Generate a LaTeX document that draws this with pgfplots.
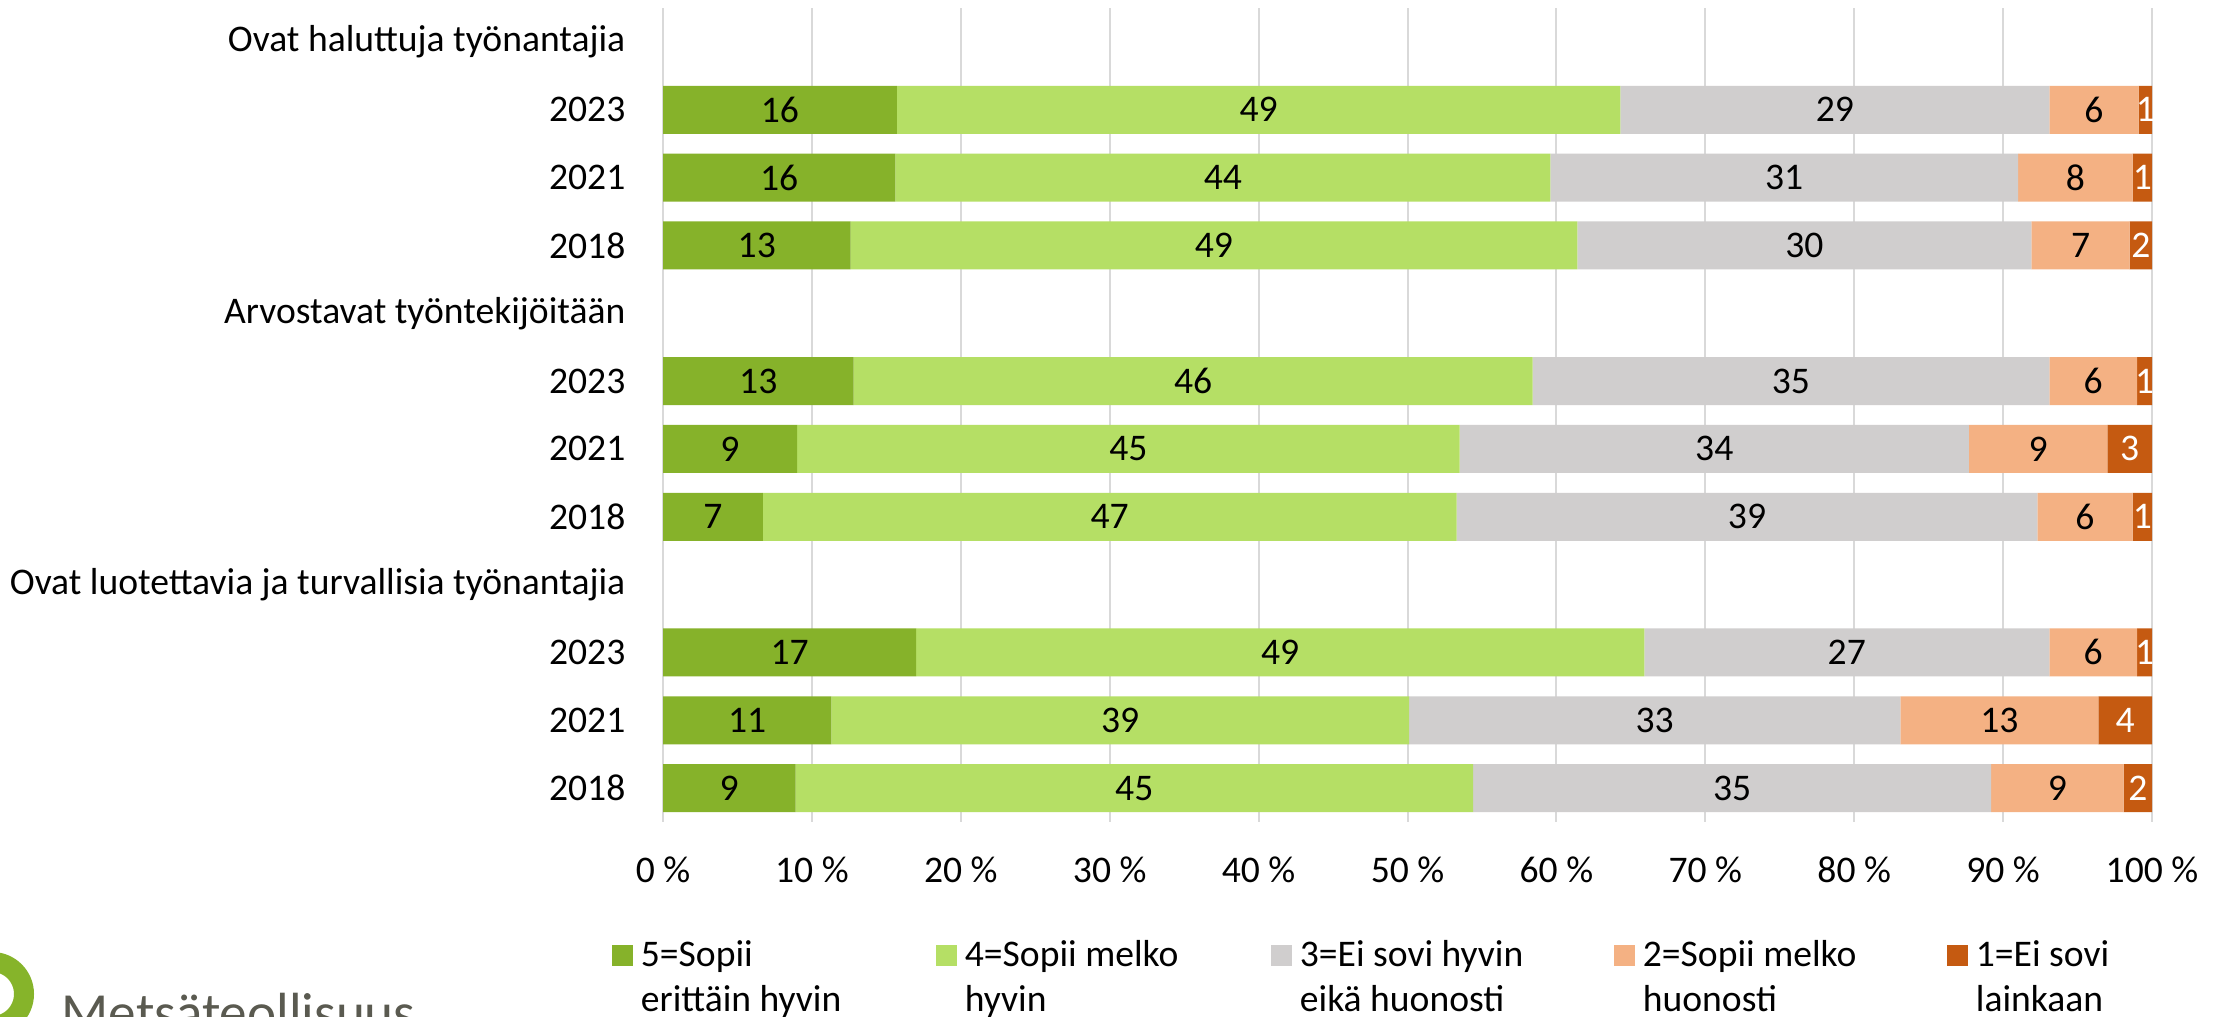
\documentclass[border=0pt]{standalone}
\usepackage{fontspec}
\setmainfont{Carlito}
\usepackage{pgfplots}
\pgfplotsset{compat=1.18}
\definecolor{c5}{HTML}{86B22A}
\definecolor{c4}{HTML}{B5DF65}
\definecolor{c3}{HTML}{D0CECE}
\definecolor{c2}{HTML}{F4B183}
\definecolor{c1}{HTML}{C55A11}
\definecolor{gridc}{HTML}{D9D9D9}
\definecolor{logog}{HTML}{86B42A}
\definecolor{logot}{HTML}{5A5A50}
\newcommand{\legtxt}[2]{\parbox[t]{#1}{\raggedright\fontsize{10.7}{12.6}\selectfont\strut #2}}
\begin{document}
\begin{tikzpicture}[font=\fontsize{10.7}{12.8}\selectfont]
\useasboundingbox (0,0) rectangle (22.23,10.16);
\fill[white] (0,0) rectangle (22.23,10.16);
\draw[logog, line width=0.2cm] (-0.08,0.22) circle (0.32);
\node[anchor=base west, inner sep=0pt, text=logot, font=\fontsize{15.7}{18}\selectfont] at (0.61,-0.15) {Metsäteollisuus};
\begin{axis}[
  at={(6.63cm,1.94cm)}, anchor=south west,
  scale only axis, width=14.89cm, height=8.14cm,
  xbar stacked, bar width=0.48cm,
  xmin=0, xmax=100, ymin=-0.5, ymax=11.5, y dir=reverse,
  axis line style={draw=none},
  tick style={draw=none},
  xmajorgrids, ymajorgrids=false,
  major grid style={draw=gridc, line width=0.02cm},
  xtick={0,10,20,30,40,50,60,70,80,90,100},
  xticklabels={0 \%,10 \%,20 \%,30 \%,40 \%,50 \%,60 \%,70 \%,80 \%,90 \%,100 \%},
  ytick={0,1,2,3,4,5,6,7,8,9,10,11},
  yticklabels={Ovat haluttuja työnantajia,2023,2021,2018,Arvostavat työntekijöitään,2023,2021,2018,Ovat luotettavia ja turvallisia työnantajia,2023,2021,2018},
  yticklabel style={anchor=east, inner sep=0pt, xshift=-0.37cm},
  xticklabel style={anchor=center, inner sep=0pt, yshift=-0.48cm},
  point meta=explicit symbolic,
  nodes near coords={\pgfplotspointmeta},
  every node near coord/.append style={anchor=center, inner sep=0pt},
  legend columns=5,
  legend image code/.code={\fill[#1] (0cm,0.01cm) rectangle (0.21cm,0.22cm);},
  legend style={at={(axis description cs:-0.0343,-0.140)}, anchor=north west, draw=none, fill=none, inner sep=0pt, outer sep=0pt,
    cells={anchor=base west},
    nodes={inner sep=0pt},
    /tikz/every odd column/.append style={column sep=0.08cm},
    /tikz/every even column/.append style={column sep=0.2cm}},
]
\addplot[fill=c5, draw=none] coordinates {(15.7,1) [16] (15.6,2) [16] (12.6,3) [13] (12.8,5) [13] (9.0,6) [9] (6.7,7) [7] (17.0,9) [17] (11.3,10) [11] (8.9,11) [9]};
\addlegendentry{\legtxt{2.75cm}{5=Sopii\\erittäin hyvin}}
\addplot[fill=c4, draw=none] coordinates {(48.6,1) [49] (44.0,2) [44] (48.8,3) [49] (45.6,5) [46] (44.5,6) [45] (46.6,7) [47] (48.9,9) [49] (38.8,10) [39] (45.5,11) [45]};
\addlegendentry{\legtxt{2.86cm}{4=Sopii melko\\hyvin}}
\addplot[fill=c3, draw=none] coordinates {(28.8,1) [29] (31.4,2) [31] (30.5,3) [30] (34.7,5) [35] (34.2,6) [34] (39.0,7) [39] (27.2,9) [27] (33.0,10) [33] (34.8,11) [35]};
\addlegendentry{\legtxt{2.94cm}{3=Ei sovi hyvin\\eikä huonosti}}
\addplot[fill=c2, draw=none] coordinates {(6.0,1) [6] (7.7,2) [8] (6.6,3) [7] (5.9,5) [6] (9.3,6) [9] (6.4,7) [6] (5.9,9) [6] (13.3,10) [13] (8.9,11) [9]};
\addlegendentry{\legtxt{2.84cm}{2=Sopii melko\\huonosti}}
\addplot[fill=c1, draw=none, every node near coord/.append style={text=white}] coordinates {(0.9,1) [1] (1.3,2) [1] (1.5,3) [2] (1.0,5) [1] (3.0,6) [3] (1.3,7) [1] (1.0,9) [1] (3.6,10) [4] (1.9,11) [2]};
\addlegendentry{\legtxt{1.6cm}{1=Ei sovi\\lainkaan}}
\end{axis}
\end{tikzpicture}
\end{document}
